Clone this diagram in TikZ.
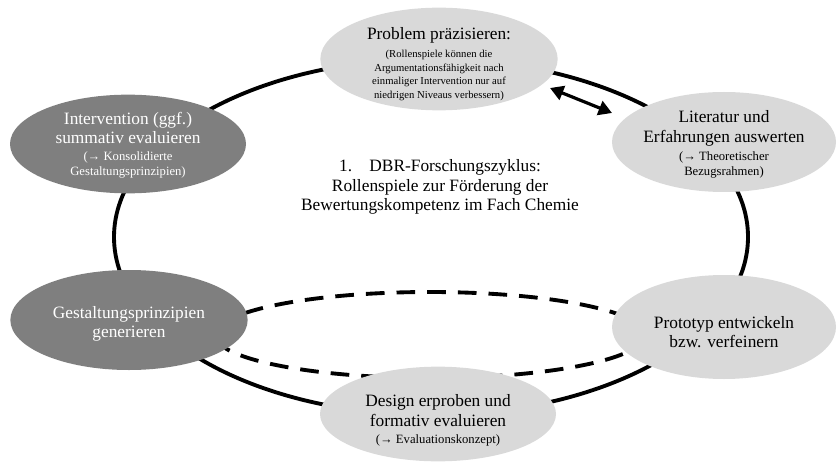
\documentclass[tikz,border=0pt]{standalone}
\usepackage{fontspec}
\setmainfont{Liberation Serif}
\usetikzlibrary{shapes.geometric,arrows.meta}
\definecolor{lightfill}{HTML}{D9D9D9}
\definecolor{darkfill}{HTML}{7F7F7F}
\tikzset{
  lightell/.style={ellipse,fill=lightfill,inner sep=0pt},
  darkell/.style={ellipse,fill=darkfill,inner sep=0pt},
  ltxt/.style={align=center,text=black,font=\fontsize{13}{14.8}\selectfont},
  dtxt/.style={align=center,text=white,font=\fontsize{13}{14.5}\selectfont},
  cycleline/.style={line width=2.9pt},
  dashline/.style={line width=2.9pt,dash pattern=on 14pt off 9pt},
}
\newcommand{\mysmall}[1]{{\fontsize{9.5}{11.3}\selectfont\begin{tabular}[t]{@{}c@{}}#1\end{tabular}}}
\newcommand{\mytiny}[1]{{\fontsize{8}{10.1}\selectfont\begin{tabular}[t]{@{}c@{}}#1\end{tabular}}}
\begin{document}
\begin{tikzpicture}[x=0.75pt,y=-0.75pt]
\useasboundingbox (0,0) rectangle (837,463);
% cycle
\draw[cycleline] (431,237) ellipse [x radius=317, y radius=178];
\draw[dashline] (430,335) ellipse [x radius=215, y radius=43];
% nodes
\node[lightell,minimum width=178pt,minimum height=77pt] (prob) at (439,59) {};
\node[ltxt] (probtxt) at (439,65)
  {Problem präzisieren:\\[-1.3pt]\mytiny{(Rollenspiele können die\\Argumentationsfähigkeit nach\\einmaliger Intervention nur auf\\niedrigen Niveaus verbessern)}};
\node[darkell,minimum width=177pt,minimum height=74pt] (interv) at (128,144) {};
\node[dtxt] (intervtxt) at (128,146)
  {Intervention (ggf.)\\summativ evaluieren\\[-1.7pt]\mysmall{(→ Konsolidierte\\Gestaltungsprinzipien)}};
\node[lightell,minimum width=168pt,minimum height=75pt] (lit) at (724,142) {};
\node[ltxt,font=\fontsize{13}{15}\selectfont] (littxt) at (724,145)
  {Literatur und\\Erfahrungen auswerten\\[-1.5pt]\mysmall{(→ Theoretischer\\Bezugsrahmen)}};
\node[darkell,minimum width=178pt,minimum height=75pt] (gest) at (129,320) {};
\node[dtxt] (gesttxt) at (129,324)
  {Gestaltungsprinzipien\\generieren};
\node[lightell,minimum width=168pt,minimum height=78pt] (proto) at (724,327) {};
\node[ltxt,font=\fontsize{13}{14.5}\selectfont] (prototxt) at (724,332)
  {Prototyp entwickeln\\bzw. verfeinern};
\node[lightell,minimum width=177pt,minimum height=71pt] (design) at (438,414) {};
\node[ltxt,font=\fontsize{13}{15}\selectfont] (designtxt) at (438,421)
  {Design erproben und\\formativ evaluieren\\[-2pt]\mysmall{(→ Evaluationskonzept)}};
% title
\node[align=center,font=\fontsize{13}{14.8}\selectfont] (title) at (440,187)
  {1.\hspace{1em}DBR-Forschungszyklus:\\Rollenspiele zur Förderung der\\Bewertungskompetenz im Fach Chemie};
% double arrow
\coordinate (a1) at (550,88);
\coordinate (a2) at (612,113);
\draw[line width=2.4pt,{Triangle[length=10pt,width=11pt]}-{Triangle[length=10pt,width=11pt]}] (a1) -- (a2);
\end{tikzpicture}
\end{document}
